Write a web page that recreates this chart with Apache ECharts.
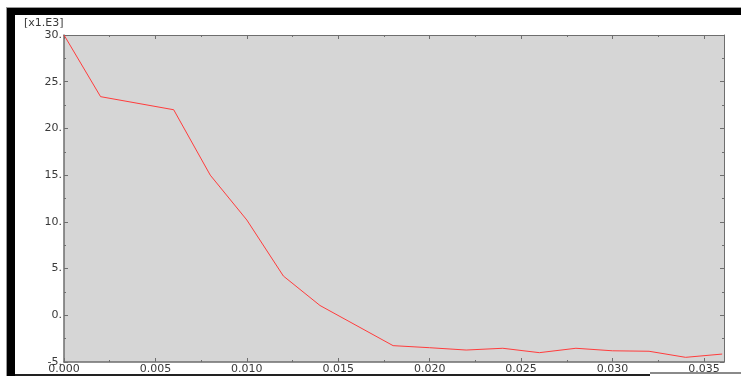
<!DOCTYPE html>
<html>
<head>
<meta charset="utf-8">
<script src="https://cdn.jsdelivr.net/npm/echarts@6/dist/echarts.min.js"></script>
<style>
html,body{margin:0;padding:0;background:#fff;}
#c{width:741px;height:376px;}
</style>
</head>
<body>
<div id="c"></div>
<script>
var xValues = [0.000, 0.002, 0.006, 0.008, 0.010, 0.012, 0.014, 0.018, 0.020, 0.022, 0.024, 0.026, 0.028, 0.030, 0.032, 0.034, 0.036];
var yValues = [30.0, 23.4, 22.0, 15.0, 10.2, 4.2, 1.05, -3.25, -3.47, -3.72, -3.53, -4.0, -3.53, -3.8, -3.85, -4.5, -4.15];
var yTickLabels = ['-5.', '0.', '5.', '10.', '15.', '20.', '25.', '30.'];
var axisUnit = '[x1.E3]';

var data = xValues.map(function (x, i) { return [x, yValues[i]]; });
var chart = echarts.init(document.getElementById('c'), null, {renderer: 'canvas'});
var font = 'DejaVu Sans';
var axisCol = '#6e6e6e';
var labelCol = '#3a3a3a';
function yLab(v) { var idx = Math.round((v + 5) / 5); return yTickLabels[idx] !== undefined ? yTickLabels[idx] : ''; }

chart.setOption({
  animation: false,
  backgroundColor: '#ffffff',
  grid: {left: 64, top: 35, right: 17, bottom: 14, show: true, backgroundColor: '#d6d6d6', borderWidth: 0},
  xAxis: [{
    type: 'value', min: 0, max: 0.0361, interval: 0.005, position: 'bottom',
    axisLine: {show: true, onZero: false, lineStyle: {color: axisCol, width: 1.5}},
    axisTick: {show: true, inside: true, length: 4, lineStyle: {color: axisCol}},
    minorTick: {show: true, splitNumber: 2, length: 2, lineStyle: {color: axisCol}},
    splitLine: {show: false},
    axisLabel: {show: true, margin: 2, color: labelCol, fontFamily: font, fontSize: 11, showMaxLabel: false,
      formatter: function (v) { return v.toFixed(3); }}
  }, {
    type: 'value', min: 0, max: 0.0361, interval: 0.005, position: 'top',
    axisLine: {show: true, onZero: false, lineStyle: {color: axisCol, width: 1}},
    axisTick: {show: true, inside: true, length: 4, lineStyle: {color: axisCol}},
    minorTick: {show: true, splitNumber: 2, length: 2, lineStyle: {color: axisCol}},
    splitLine: {show: false}, axisLabel: {show: false}
  }],
  yAxis: [{
    type: 'value', min: -5, max: 30, interval: 5, position: 'left',
    axisLine: {show: true, onZero: false, lineStyle: {color: axisCol, width: 1.5}},
    axisTick: {show: true, inside: true, length: 4, lineStyle: {color: axisCol}},
    minorTick: {show: true, splitNumber: 2, length: 2, lineStyle: {color: axisCol}},
    splitLine: {show: false},
    axisLabel: {show: true, margin: 2, color: labelCol, fontFamily: font, fontSize: 11, formatter: yLab}
  }, {
    type: 'value', min: -5, max: 30, interval: 5, position: 'right',
    axisLine: {show: true, onZero: false, lineStyle: {color: axisCol, width: 1}},
    axisTick: {show: true, inside: true, length: 4, lineStyle: {color: axisCol}},
    minorTick: {show: true, splitNumber: 2, length: 2, lineStyle: {color: axisCol}},
    splitLine: {show: false}, axisLabel: {show: false}
  }],
  graphic: [
    {type: 'rect', shape: {x: 7, y: 8, width: 734, height: 7}, style: {fill: '#000'}, z: 100},
    {type: 'rect', shape: {x: 7, y: 8, width: 8, height: 368}, style: {fill: '#000'}, z: 100},
    {type: 'rect', shape: {x: 6, y: 7, width: 735, height: 1}, style: {fill: '#9a9a9a'}, z: 100},
    {type: 'rect', shape: {x: 6, y: 7, width: 1, height: 369}, style: {fill: '#9a9a9a'}, z: 100},
    {type: 'rect', shape: {x: 15, y: 374, width: 635, height: 2}, style: {fill: '#222'}, z: 100},
    {type: 'rect', shape: {x: 650, y: 372, width: 91, height: 2}, style: {fill: '#8a8a8a'}, z: 100},
    {type: 'text', left: 24, top: 18, style: {text: axisUnit, fill: labelCol, font: '11px "DejaVu Sans"'}, z: 100}
  ],
  series: [{
    type: 'line', data: data, xAxisIndex: 0, yAxisIndex: 0,
    showSymbol: false, symbol: 'none',
    lineStyle: {color: '#ff3c3c', width: 1}
  }]
});
</script>
</body>
</html>
